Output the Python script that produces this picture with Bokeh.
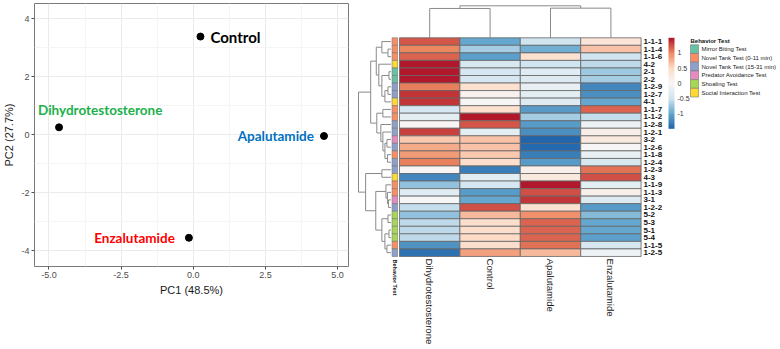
import math
import numpy as np
from bokeh.plotting import figure
from bokeh.layouts import row
from bokeh.models import (Range1d, ColumnDataSource, LinearColorMapper, ColorBar,
                          FixedTicker, PrintfTickFormatter)
from bokeh.core.properties import value
from bokeh.embed import file_html
from bokeh.resources import INLINE

# ---------------- PCA of treatment profiles ----------------
pca_groups = ["Control", "Dihydrotestosterone", "Apalutamide", "Enzalutamide"]
pc1_scores = [0.25, -4.65, 4.53, -0.15]
pc2_scores = [3.38, 0.25, -0.05, -3.56]
pc1_title = "PC1 (48.5%)"
pc2_title = "PC2 (27.7%)"

# ---------------- Row-scaled heatmap ----------------
treatments = ["Dihydrotestosterone", "Control", "Apalutamide", "Enzalutamide"]
endpoints = ["1-1-1", "1-1-4", "1-1-6", "4-2", "2-1", "2-2", "1-2-9", "1-2-7", "4-1",
             "1-1-7", "1-1-2", "1-2-8", "1-2-1", "3-2", "1-2-6", "1-1-8", "1-2-4",
             "1-2-3", "4-3", "1-1-9", "1-1-3", "3-1", "1-2-2", "5-2", "5-3", "5-1",
             "5-4", "1-1-5", "1-2-5"]
behavior_tests = ["Mirror Biting Test", "Novel Tank Test (0-11 min)",
                  "Novel Tank Test (15-31 min)", "Predator Avoidance Test",
                  "Shoaling Test", "Social Interaction Test"]
NT1, NT2 = "Novel Tank Test (0-11 min)", "Novel Tank Test (15-31 min)"
MB, PA, SH, SI = ("Mirror Biting Test", "Predator Avoidance Test",
                  "Shoaling Test", "Social Interaction Test")
endpoint_tests = [NT1, NT1, NT1, SI, MB, MB, NT2, NT2, SI,
                  NT1, NT1, NT2, NT2, PA, NT2, NT1, NT2,
                  NT2, SI, NT1, NT1, PA, NT2, SH, SH, SH,
                  SH, NT1, NT2]

z_dht = [1.2, 1.0, 1.15, 1.5, 1.5, 1.5, 1.05, 1.35, 1.35,
         -0.45, -0.25, 0.05, 1.3, 0.6, 0.8, 0.9, 1.05,
         0.05, -1.25, -0.8, -0.3, 0.0, -0.55, -0.8, -0.6, -0.6,
         -0.6, -1.15, -1.4]
z_control = [-1.0, -0.7, -1.05, -0.4, -0.45, -0.45, 0.4, 0.1, 0.0,
             0.4, 1.5, 1.2, -0.25, 0.65, 0.65, 0.6, 0.45,
             -1.3, -0.25, -0.45, -1.1, -1.0, 1.25, 0.7, 0.45, 0.45,
             0.5, 0.45, 0.85]
z_apalutamide = [-0.5, -0.95, 0.4, -0.5, -0.3, -0.35, -0.2, -0.25, -0.35,
                 -1.1, -0.7, -1.1, -1.2, -1.5, -1.45, -1.3, -1.1,
                 0.15, 0.25, 1.5, 1.25, 1.35, 0.4, 0.95, 1.15, 1.15,
                 1.15, 1.1, 0.7]
z_enzalutamide = [0.3, 0.65, -0.5, -0.6, -0.75, -0.7, -1.25, -1.2, -1.0,
                  1.15, -0.55, -0.15, 0.15, 0.25, 0.0, -0.2, -0.4,
                  1.1, 1.25, -0.25, 0.15, -0.35, -1.1, -0.85, -1.0, -1.0,
                  -1.05, -0.4, -0.15]

# hierarchical clustering merges (R hclust convention: negative = leaf in display order)
row_merges = [(-2, -3, 3), (-1, 1, 9), (-5, -6, 2), (-7, -8, 3), (4, -9, 6),
              (3, 5, 9), (-4, 6, 12), (2, 7, 14.5), (-10, -11, 8), (-14, -15, 4),
              (-16, -17, 3.5), (10, 11, 6), (-13, 12, 8), (-12, 13, 10), (9, 14, 14),
              (8, 15, 20), (-18, -19, 9), (-22, -23, 2.5), (-21, 18, 3.5), (-20, 19, 5),
              (-24, -25, 3), (-26, -27, 2), (-28, -29, 4), (22, 23, 6), (21, 24, 9),
              (20, 25, 15), (17, 26, 25), (16, 27, 32)]
col_merges = [(-1, -2, 2.75), (-3, -4, 2.78), (1, 2, 3.0)]

# ---------------- styling ----------------
FONT = "Liberation Sans"
LABEL_FONT = "Lato"
group_style = {
    "Control": dict(color="#000000", size="15px", align="left", dx=10, dy=0),
    "Dihydrotestosterone": dict(color="#20B04B", size="13.5px", align="left", dx=-21, dy=-17),
    "Apalutamide": dict(color="#0070C0", size="13.5px", align="right", dx=-10, dy=0),
    "Enzalutamide": dict(color="#FF0000", size="13.5px", align="right", dx=-14, dy=0),
}
test_colors = {MB: "#66C2A5", NT1: "#FC8D62", NT2: "#8DA0CB",
               PA: "#E78AC3", SH: "#A6D854", SI: "#FFD92F"}
rdbu = ["#2166AC", "#67A9CF", "#D1E5F0", "#F7F7F7", "#FDDBC7", "#EF8A62", "#B2182B"]


def ramp(anchors, n):
    rgb = np.array([[int(c[i:i + 2], 16) for i in (1, 3, 5)] for c in anchors], float)
    t = np.linspace(0, len(anchors) - 1, n)
    out = []
    for v in t:
        i = min(int(v), len(anchors) - 2)
        f = v - i
        c = rgb[i] * (1 - f) + rgb[i + 1] * f
        out.append("#%02x%02x%02x" % tuple(int(round(x)) for x in c))
    return out


def dendrogram_links(merges):
    nodes, segs = {}, []

    def get(k):
        return ((-k - 1) + 0.5, 0.0) if k < 0 else nodes[k]

    for k, (a, b, h) in enumerate(merges, start=1):
        pa, ha = get(a)
        pb, hb = get(b)
        segs += [(pa, ha, pa, h), (pb, hb, pb, h), (pa, h, pb, h)]
        nodes[k] = ((pa + pb) / 2, h)
    return segs


# ================= left: PCA scatter =================
p1 = figure(width=355, height=349, x_range=Range1d(-5.5, 5.38), y_range=Range1d(-4.55, 4.52),
            output_backend="svg", toolbar_location=None,
            min_border_left=32, min_border_right=7, min_border_top=3, min_border_bottom=83)
p1.frame_align = False
p1.outline_line_color = "#7a7a7a"
p1.outline_line_width = 1
xt = FixedTicker(ticks=[-5, -2.5, 0, 2.5, 5], minor_ticks=[-3.75, -1.25, 1.25, 3.75])
yt = FixedTicker(ticks=[-4, -2, 0, 2, 4], minor_ticks=[-3, -1, 1, 3])
p1.xaxis.ticker = xt
p1.yaxis.ticker = yt
p1.xgrid.ticker = xt
p1.ygrid.ticker = yt
p1.xaxis.formatter = PrintfTickFormatter(format="%.1f")
p1.yaxis.formatter = PrintfTickFormatter(format="%d")
p1.xaxis.axis_label = pc1_title
p1.yaxis.axis_label = pc2_title
for ax in (p1.xaxis[0], p1.yaxis[0]):
    ax.axis_line_color = None
    ax.major_tick_line_color = "#4d4d4d"
    ax.major_tick_out = 3
    ax.major_tick_in = 0
    ax.minor_tick_line_color = None
    ax.major_label_text_font = FONT
    ax.major_label_text_font_size = "9px"
    ax.major_label_text_color = "#4d4d4d"
    ax.major_label_standoff = 1
    ax.axis_label_text_font = FONT
    ax.axis_label_text_font_size = "11px"
    ax.axis_label_text_font_style = "normal"
    ax.axis_label_text_color = "#1a1a1a"
    ax.axis_label_standoff = 3
p1.grid.grid_line_color = "#ebebeb"
p1.grid.minor_grid_line_color = "#f5f5f5"

p1.scatter(pc1_scores, pc2_scores, size=7, color="black")
for g, x, y in zip(pca_groups, pc1_scores, pc2_scores):
    st = group_style[g]
    p1.text(x=[x], y=[y], text=[g], x_offset=st["dx"], y_offset=st["dy"],
            text_align=st["align"], text_baseline="middle",
            text_font=value(LABEL_FONT), text_font_style="bold",
            text_font_size=st["size"], text_color=st["color"])

# ================= right: clustered heatmap =================
W2, H2 = 425, 349
CELL_W, CELL_H = 60.4, 7.54
HEAT_L, HEAT_T = 44.0, 37.3
n_rows, n_cols = len(endpoints), len(treatments)


def fx(px):
    return (px - HEAT_L) / CELL_W


def fy(py):
    return n_rows - (py - HEAT_T) / CELL_H


p2 = figure(width=W2, height=H2, x_range=Range1d(fx(0), fx(W2)), y_range=Range1d(fy(H2), fy(0)),
            output_backend="svg", toolbar_location=None, x_axis_type=None, y_axis_type=None,
            min_border=0)
p2.frame_align = False
p2.outline_line_color = None
p2.grid.visible = False

mapper = LinearColorMapper(palette=ramp(rdbu, 100), low=-1.5, high=1.5)
columns = [z_dht, z_control, z_apalutamide, z_enzalutamide]
xs, ys, zs = [], [], []
for j, col in enumerate(columns):
    for i, z in enumerate(col):
        xs.append(j + 0.5)
        ys.append(n_rows - i - 0.5)
        zs.append(z)
p2.rect(x="x", y="y", width=1, height=1, source=ColumnDataSource(dict(x=xs, y=ys, z=zs)),
        fill_color={"field": "z", "transform": mapper}, line_color="#666666", line_width=0.8)

# annotation bar
ann_x = fx(39.3)
p2.rect(x=[ann_x] * n_rows, y=[n_rows - i - 0.5 for i in range(n_rows)],
        width=5.5 / CELL_W, height=1,
        fill_color=[test_colors[t] for t in endpoint_tests], line_color="#777777", line_width=0.6)
p2.text(x=[ann_x], y=[fy(259)], text=["Behavior Test"], angle=-math.pi / 2,
        text_align="left", text_baseline="middle", text_font=value(FONT),
        text_font_style="bold", text_font_size="5.5px", text_color="#111111")

# row dendrogram
row_base, row_w = fx(35.5), 32.5 / CELL_W
root_h = max(m[2] for m in row_merges)
segs = dendrogram_links(row_merges)
p2.segment(x0=[row_base - s[1] / root_h * row_w for s in segs],
           y0=[n_rows - s[0] for s in segs],
           x1=[row_base - s[3] / root_h * row_w for s in segs],
           y1=[n_rows - s[2] for s in segs], line_color="#8a8a8a", line_width=1)

# column dendrogram
col_base, col_h = n_rows, 32.0 / CELL_H
croot = max(m[2] for m in col_merges)
csegs = dendrogram_links(col_merges)
p2.segment(x0=[s[0] for s in csegs], y0=[col_base + s[1] / croot * col_h for s in csegs],
           x1=[s[2] for s in csegs], y1=[col_base + s[3] / croot * col_h for s in csegs],
           line_color="#8a8a8a", line_width=1)

# row and column labels
p2.text(x=[fx(288)] * n_rows, y=[n_rows - i - 0.5 for i in range(n_rows)], text=endpoints,
        text_align="left", text_baseline="middle", text_font=value(FONT),
        text_font_style="bold", text_font_size="8px", text_color="#111111")
p2.text(x=[j + 0.5 for j in range(n_cols)], y=[fy(258)] * n_cols, text=treatments,
        angle=-math.pi / 2, text_align="left", text_baseline="middle",
        text_font=value(FONT), text_font_size="9.6px", text_color="#1a1a1a")

# colour key
cb = ColorBar(color_mapper=mapper, location=(313, 220.7), width=6, height=91,
              padding=0, margin=0, ticker=FixedTicker(ticks=[-1, -0.5, 0, 0.5, 1]),
              formatter=PrintfTickFormatter(format="%g"),
              major_tick_line_color=None, minor_tick_line_color=None, bar_line_color=None,
              major_label_text_font=FONT, major_label_text_font_size="7px",
              major_label_text_color="#333333", label_standoff=3,
              background_fill_alpha=0, border_line_color=None)
p2.add_layout(cb)

# behaviour test legend
leg_top, leg_step = 44.3, 8.7
p2.text(x=[fx(335)], y=[fy(40)], text=["Behavior Test"], text_align="left",
        text_baseline="middle", text_font=value(FONT), text_font_style="bold",
        text_font_size="6px", text_color="#111111")
leg_y = [fy(leg_top + leg_step * (k + 0.5)) for k in range(len(behavior_tests))]
p2.rect(x=[fx(339)] * len(behavior_tests), y=leg_y, width=8 / CELL_W, height=leg_step / CELL_H,
        fill_color=[test_colors[t] for t in behavior_tests], line_color="#777777", line_width=0.6)
p2.text(x=[fx(346)] * len(behavior_tests), y=leg_y, text=behavior_tests, text_align="left",
        text_baseline="middle", text_font=value(FONT), text_font_size="6px",
        text_color="#222222")

layout = row(p1, p2)
open("out.html", "w").write(file_html(layout, INLINE))
